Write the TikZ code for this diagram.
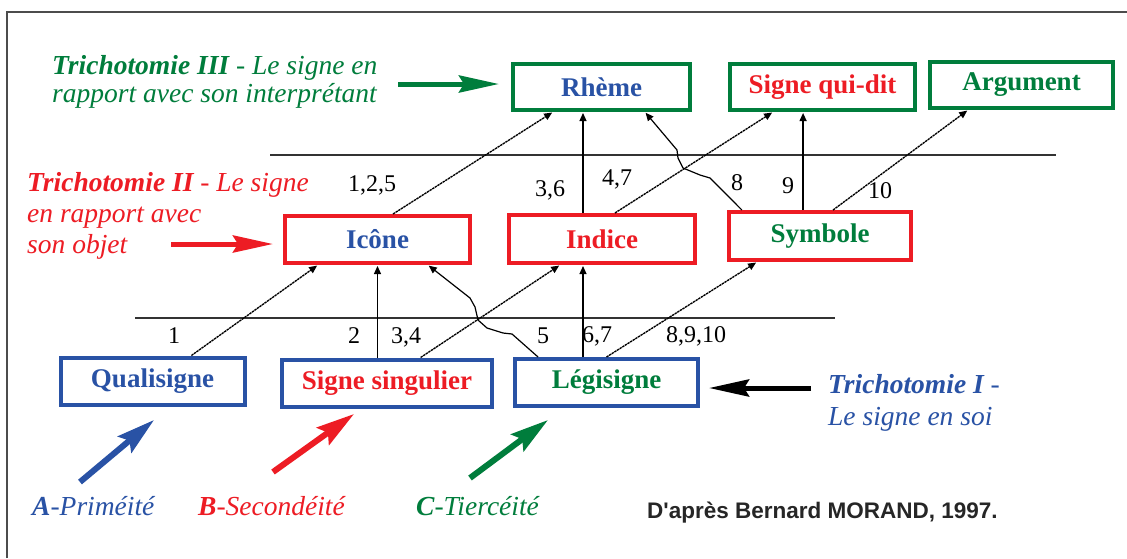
\documentclass[tikz,border=0pt]{standalone}
\usepackage{fontspec}
\setmainfont{Liberation Serif}
\newfontfamily\arialfont{Liberation Sans}
\usetikzlibrary{arrows.meta,calc}
\definecolor{pgreen}{RGB}{0,125,60}
\definecolor{pred}{RGB}{237,28,36}
\definecolor{pblue}{RGB}{41,82,165}
\begin{document}
\begin{tikzpicture}[x=1pt,y=-1pt,
  box/.style={draw,line width=4pt,inner sep=0pt,minimum height=47pt,
    font=\fontsize{27}{30}\selectfont\bfseries},
  conn/.style={line width=1.2pt,-{Triangle[length=8pt,width=7pt]},shorten >=1pt},
  dconn/.style={conn,line width=1.35pt,dash pattern=on 2.4pt off 0.7pt},
  fat/.style={line width=5pt,-{Stealth[length=40pt,width=17pt,inset=5pt]}},
  fatd/.style={line width=6pt,-{Stealth[length=38pt,width=21pt,inset=6pt]}},
  lbl/.style={font=\fontsize{27.5}{30}\selectfont\itshape,anchor=base west,inner sep=0pt},
  num/.style={font=\fontsize{24}{26}\selectfont,anchor=base,inner sep=0pt},
  rule/.style={line width=1.3pt,black!80}]
\useasboundingbox (0,0) rectangle (1127,558);
\fill[white] (0,0) rectangle (1127,558);
\draw[line width=1.3pt,black!70] (7,558) -- (7,12) -- (1127,12);

% boxes
\node[box,draw=pgreen,text=pblue,minimum width=177pt,minimum height=46pt] (rheme) at (601.5,87) {Rhème};
\node[box,draw=pgreen,text=pred,minimum width=185pt,minimum height=46pt] (sqd) at (822.5,87) {Signe qui-dit};
\node[box,draw=pgreen,text=pgreen,minimum width=183pt,minimum height=46pt] (arg) at (1021.5,85) {Argument};
\node[box,draw=pred,text=pblue,minimum width=185pt] (icone) at (377.5,239.5) {Icône};
\node[box,draw=pred,text=pred,minimum width=186pt,minimum height=48pt] (indice) at (602,239) {Indice};
\node[box,draw=pred,text=pgreen,minimum width=182pt,minimum height=48pt] (symbole) at (820,236) {Symbole};
\node[box,draw=pblue,text=pblue,minimum width=184pt] (qual) at (152.5,381) {Qualisigne};
\node[box,draw=pblue,text=pred,minimum width=210pt] (sing) at (387,383) {Signe singulier};
\node[box,draw=pblue,text=pgreen,minimum width=183pt] (legi) at (606.5,382.5) {Légisigne};

% separating rules
\draw[rule] (270,155) -- (1056,155);
\draw[rule] (135,318) -- (835,318);

% lower connectors
\draw[dconn] ($(qual.north west)!0.707!(qual.north east)$) -- ($(icone.south west)!0.185!(icone.south east)$);
\draw[conn] (icone.south |- sing.north) -- (icone.south);
\draw[dconn] ($(sing.north west)!0.657!(sing.north east)$) -- ($(indice.south west)!0.279!(indice.south east)$);
\draw[conn] ($(legi.north west)!0.134!(legi.north east)$) -- (512,334) -- (503,333) -- (487,328) -- (478,320) -- (475,307) -- (470,298) -- ($(icone.south west)!0.767!(icone.south east)$);
\coordinate (ix) at ($(indice.south west)!0.4!(indice.south east)$);
\draw[conn] (ix |- legi.north) -- (ix);
\draw[dconn] (legi.north) -- ($(symbole.south west)!0.161!(symbole.south east)$);

% upper connectors
\draw[dconn] ($(icone.north west)!0.582!(icone.north east)$) -- ($(rheme.south west)!0.232!(rheme.south east)$);
\coordinate (ixn) at ($(indice.north west)!0.4!(indice.north east)$);
\draw[conn] (ixn) -- (ixn |- rheme.south);
\draw[dconn] ($(indice.north west)!0.568!(indice.north east)$) -- ($(sqd.south west)!0.238!(sqd.south east)$);
\draw[conn] ($(symbole.north west)!0.08!(symbole.north east)$) -- (710,178) -- (700,175) -- (683,168) -- (678,158) -- (677,150) -- ($(rheme.south west)!0.74!(rheme.south east)$);
\coordinate (sx) at ($(symbole.north west)!0.409!(symbole.north east)$);
\draw[conn] (sx) -- (sx |- sqd.south);
\draw[dconn] ($(symbole.north west)!0.57!(symbole.north east)$) -- ($(arg.south west)!0.214!(arg.south east)$);

% numbers
\node[num] (n125) at (372,191) {1,2,5};
\node[num] (n36) at (550,196) {3,6};
\node[num] (n47) at (617,185) {4,7};
\node[num] (n8) at (737,190) {8};
\node[num] (n9) at (788,193) {9};
\node[num] (n10) at (880,198) {10};
\node[num] (m1) at (174,343) {1};
\node[num] (m2) at (354,343) {2};
\node[num] (m34) at (406,343) {3,4};
\node[num] (m5) at (543,343) {5};
\node[num] (m67) at (597,342) {6,7};
\node[num] (m8910) at (696,342) {8,9,10};

% side labels
\node[lbl,text=pgreen] (t3a) at (52,74) {\textbf{Trichotomie III} - Le signe en};
\node[lbl,text=pgreen] (t3b) at (52,102) {rapport avec son interprétant};
\node[lbl,text=pred] (t2a) at (27,191) {\textbf{Trichotomie II} - Le signe};
\node[lbl,text=pred] (t2b) at (27,222) {en rapport avec};
\node[lbl,text=pred] (t2c) at (27,253) {son objet};
\node[lbl,text=pblue] (t1a) at (828,393) {\textbf{Trichotomie I} -};
\node[lbl,text=pblue] (t1b) at (828,425) {Le signe en soi};
\node[lbl,text=pblue] (ca) at (32,515) {\textbf{A}-Priméité};
\node[lbl,text=pred] (cb) at (198,515) {\textbf{B}-Secondéité};
\node[lbl,text=pgreen] (cc) at (416,515) {\textbf{C}-Tiercéité};
\node[anchor=base west,inner sep=0pt,font=\arialfont\fontsize{22.5}{25}\selectfont\bfseries,text=black!85] (src) at (647,518) {D'après Bernard MORAND, 1997.};

% fat arrows
\coordinate (g1) at (398,84);
\draw[fat,pgreen,shorten >=12pt] (g1) -- (g1 -| rheme.west);
\coordinate (r1) at (171,244);
\draw[fat,pred,shorten >=10pt] (r1) -- (r1 -| icone.west);
\coordinate (b1) at (811,388);
\draw[fat,black,shorten >=9pt] (b1) -- (b1 -| legi.east);
\coordinate (ba) at (80,482); \coordinate (bb) at (154,420);
\draw[fatd,pblue] (ba) -- (bb);
\coordinate (ra) at (273,472); \coordinate (rb) at (354,414);
\draw[fatd,pred] (ra) -- (rb);
\coordinate (ga) at (470,478); \coordinate (gb) at (548,420);
\draw[fatd,pgreen] (ga) -- (gb);
\end{tikzpicture}
\end{document}
